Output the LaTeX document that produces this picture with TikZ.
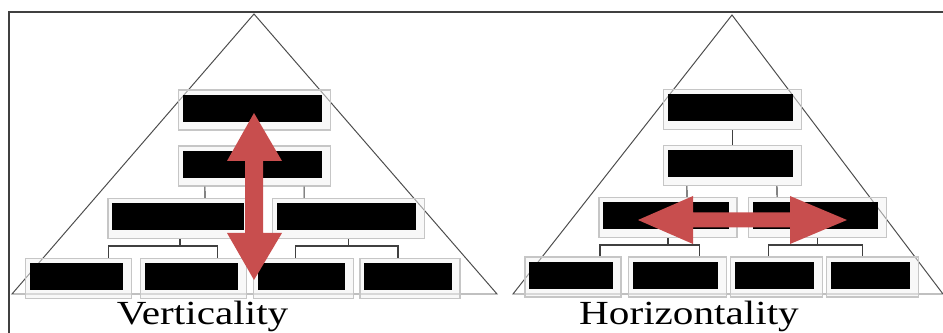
\documentclass[tikz,border=0pt]{standalone}
\usepackage{fontspec}
\setmainfont{Liberation Serif}
\usepackage{xcolor}
\definecolor{arrowred}{RGB}{200,78,78}

\begin{document}
\begin{tikzpicture}[x=0.025cm, y=-0.025cm,
    post/.style={draw=gray!45, fill=gray!10, fill opacity=0.5, line width=0.8pt,
        inner sep=0pt, minimum height=1cm,
        path picture={\fill[black, fill opacity=1]
            ([shift={(0.1cm,-0.125cm)}]path picture bounding box.north west) rectangle
            ([shift={(-0.2cm,0.2cm)}]path picture bounding box.south east);}},
    link/.style={draw=black!75, line width=0.8pt},
    pyramid/.style={draw=black!70, line width=0.7pt},
    caption/.style={font=\fontsize{24}{28}\selectfont, xscale=1.22, anchor=base}]

\useasboundingbox (0,0) rectangle (943,333);

% Rahmen
\draw[black!75, line width=0.8pt] (943,12) -- (9,12) -- (9,333);

% Pyramiden
\draw[pyramid] (254,14) -- (12,294) -- (497,294) -- cycle;
\draw[pyramid] (732,15) -- (513,294) -- (943,294) -- cycle;

% Linke Pyramide: Stellen
\node[post, minimum width=3.78cm] (L1) at (254.5,110) {};
\node[post, minimum width=3.78cm] (L2) at (254.5,166) {};
\node[post, minimum width=3.6cm] (L3a) at (180,218.5) {};
\node[post, minimum width=3.78cm] (L3b) at (348.5,218.5) {};
\node[post, minimum width=2.63cm] (L4a) at (78.5,278.5) {};
\node[post, minimum width=2.63cm] (L4b) at (193.5,278.5) {};
\node[post, minimum width=2.48cm] (L4c) at (303.5,278.5) {};
\node[post, minimum width=2.5cm] (L4d) at (410,278.5) {};

% Linke Pyramide: Verbindungen
\coordinate (busLa) at (180,246);
\coordinate (busLb) at (348.5,246);
\draw[link] ([xshift=-1.24cm]L2.south) -- ([xshift=0.625cm]L3a.north);
\draw[link] ([xshift=1.24cm]L2.south) -- ([xshift=-1.11cm]L3b.north);
\draw[link] (L3a.south) -- (busLa);
\draw[link] ([xshift=0.74cm]L4a.north) |- (busLa) -| ([xshift=0.61cm]L4b.north);
\draw[link] (L3b.south) -- (busLb);
\draw[link] ([xshift=-0.21cm]L4c.north) |- (busLb) -| ([xshift=-0.3cm]L4d.north);

% Rechte Pyramide: Stellen
\node[post, minimum width=3.43cm] (R1) at (732.5,109.5) {};
\node[post, minimum width=3.43cm] (R2) at (732.5,165.5) {};
\node[post, minimum width=3.45cm] (R3a) at (668,217.5) {};
\node[post, minimum width=3.43cm] (R3b) at (817.5,217.5) {};
\node[post, minimum width=2.4cm] (R4a) at (573,277) {};
\node[post, minimum width=2.43cm] (R4b) at (677.5,277) {};
\node[post, minimum width=2.28cm] (R4c) at (776.5,277) {};
\node[post, minimum width=2.28cm] (R4d) at (872.5,277) {};

% Rechte Pyramide: Verbindungen
\coordinate (busRa) at (668,245);
\coordinate (busRb) at (817.5,245);
\draw[link] (R1.south) -- (R2.north);
\draw[link] ([xshift=-1.14cm]R2.south) -- ([xshift=0.475cm]R3a.north);
\draw[link] ([xshift=1.11cm]R2.south) -- ([xshift=-1.01cm]R3b.north);
\draw[link] (R3a.south) -- (busRa);
\draw[link] ([xshift=0.675cm]R4a.north) |- (busRa) -| ([xshift=0.54cm]R4b.north);
\draw[link] (R3b.south) -- (busRb);
\draw[link] ([xshift=-0.19cm]R4c.north) |- (busRb) -| ([xshift=-0.26cm]R4d.north);

% Doppelpfeile
\fill[arrowred] (254,113) -- (282,161) -- (263,161) -- (263,233) -- (282,233)
    -- (254,280) -- (227,233) -- (245,233) -- (245,161) -- (227,161) -- cycle;
\fill[arrowred] (638,220) -- (693,196) -- (693,212.5) -- (790,212.5) -- (790,196)
    -- (847,220) -- (790,244) -- (790,227.5) -- (693,227.5) -- (693,244) -- cycle;

% Beschriftungen
\node[caption] (vert) at (202.5,325) {Verticality};
\node[caption] (horiz) at (689,325) {Horizontality};

\end{tikzpicture}
\end{document}
